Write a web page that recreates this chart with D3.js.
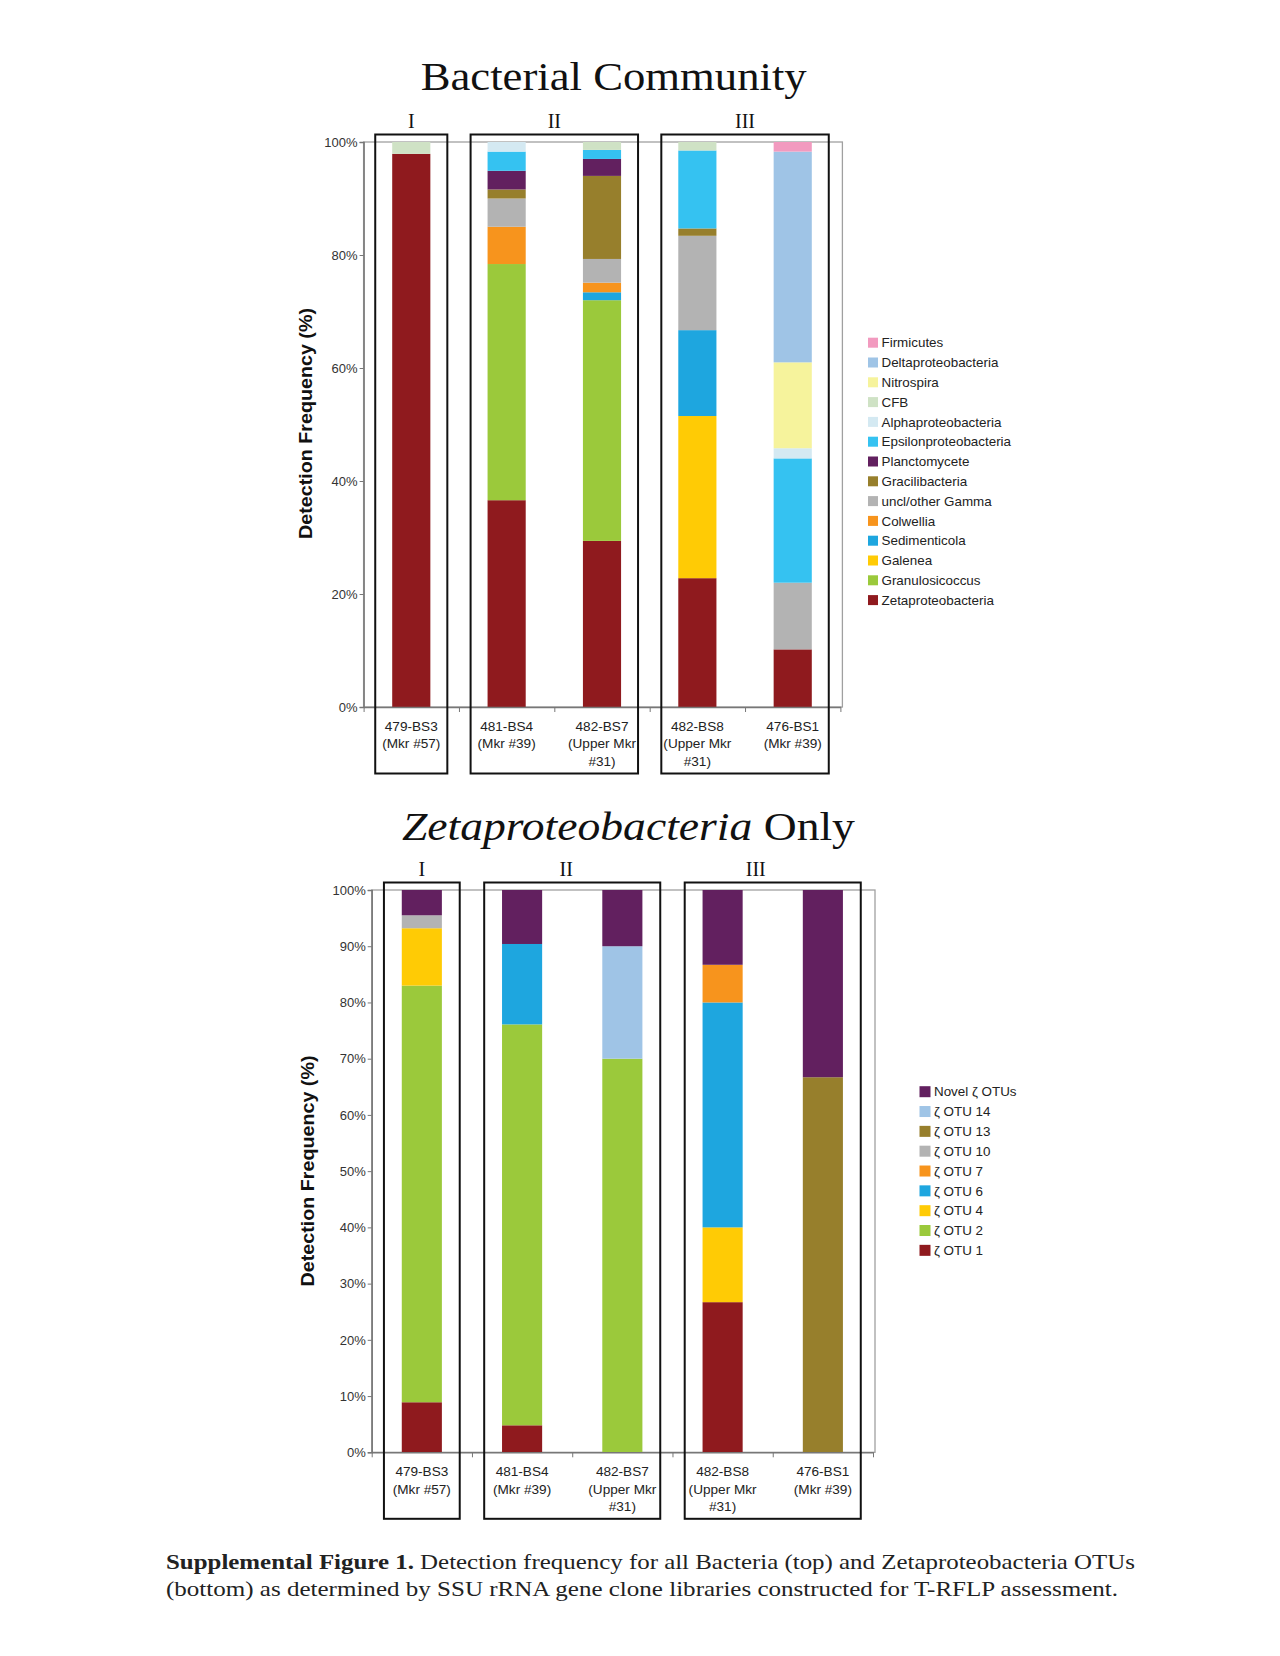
<!DOCTYPE html>
<html><head><meta charset="utf-8">
<script src="https://cdn.jsdelivr.net/npm/d3@7"></script>
<style>body{margin:0;background:#fff} svg{display:block}</style>
</head><body>
<svg id="c" width="1280" height="1656"></svg>
<script>
// ---------- DATA ----------
const samples = ["479-BS3","481-BS4","482-BS7","482-BS8","476-BS1"];
const sampleLabels = [["479-BS3","(Mkr #57)"],["481-BS4","(Mkr #39)"],["482-BS7","(Upper Mkr","#31)"],["482-BS8","(Upper Mkr","#31)"],["476-BS1","(Mkr #39)"]];
const groupNames = ["I","II","III"];
const groupMembers = [[0],[1,2],[3,4]];

// Bacterial community (stack order bottom -> top)
const bactTaxa = ["Zetaproteobacteria","Granulosicoccus","Galenea","Sedimenticola","Colwellia","uncl/other Gamma","Gracilibacteria","Planctomycete","Epsilonproteobacteria","Alphaproteobacteria","CFB","Nitrospira","Deltaproteobacteria","Firmicutes"];
const bactColors = ["#8f1a1e","#9bc93b","#ffcb05","#1ea6df","#f7941d","#b3b3b3","#977f2c","#62205f","#35c2f1","#d4e9f2","#cfe2c5","#f6f39c","#9fc4e6","#f29abf"];
const zeta      = [97.9, 36.6, 29.4, 22.8, 10.2];
const granulo   = [0, 41.8, 42.6, 0, 0];
const galenea   = [0, 0, 0, 28.7, 0];
const sedimenti = [0, 0, 1.4, 15.2, 0];
const colwellia = [0, 6.6, 1.7, 0, 0];
const gammaOth  = [0, 5.0, 4.2, 16.7, 11.8];
const gracili   = [0, 1.6, 14.7, 1.3, 0];
const plancto   = [0, 3.3, 3.0, 0, 0];
const epsilon   = [0, 3.4, 1.6, 13.8, 22.0];
const alpha     = [0, 1.7, 0, 0, 1.8];
const cfb       = [2.1, 0, 1.4, 1.5, 0];
const nitrospira= [0, 0, 0, 0, 15.2];
const delta     = [0, 0, 0, 0, 37.3];
const firmic    = [0, 0, 0, 0, 1.7];
const bactSeries = [zeta,granulo,galenea,sedimenti,colwellia,gammaOth,gracili,plancto,epsilon,alpha,cfb,nitrospira,delta,firmic];
const bactTicks = [0,20,40,60,80,100];

// Zetaproteobacteria OTUs (stack order bottom -> top)
const otuNames = ["\u03B6 OTU 1","\u03B6 OTU 2","\u03B6 OTU 4","\u03B6 OTU 6","\u03B6 OTU 7","\u03B6 OTU 10","\u03B6 OTU 13","\u03B6 OTU 14","Novel \u03B6 OTUs"];
const otuColors = ["#8f1a1e","#9bc93b","#ffcb05","#1ea6df","#f7941d","#b3b3b3","#977f2c","#9fc4e6","#62205f"];
const otu1  = [8.9, 4.8, 0, 26.7, 0];
const otu2  = [74.1, 71.3, 70.0, 0, 0];
const otu4  = [10.2, 0, 0, 13.3, 0];
const otu6  = [0, 14.3, 0, 40.0, 0];
const otu7  = [0, 0, 0, 6.7, 0];
const otu10 = [2.3, 0, 0, 0, 0];
const otu13 = [0, 0, 0, 0, 66.7];
const otu14 = [0, 0, 20.0, 0, 0];
const novel = [4.5, 9.6, 10.0, 13.3, 33.3];
const otuSeries = [otu1,otu2,otu4,otu6,otu7,otu10,otu13,otu14,novel];
const otuTicks = [0,10,20,30,40,50,60,70,80,90,100];

// ---------- DRAW ----------
const svg = d3.select("#c");
const SANS = "'Liberation Sans', Arial, sans-serif";
const SERIF = "'Liberation Serif', 'Times New Roman', serif";

function panel(cfg){
  const g = svg.append("g");
  const x = d3.scaleBand().domain(samples).range([cfg.left, cfg.right]).paddingInner(0.6).paddingOuter(0.3);
  const xb = d3.scaleLinear().domain([0, samples.length]).range([cfg.left, cfg.right]);
  const y = d3.scaleLinear().domain([0,100]).range([cfg.bottom, cfg.top]);
  const step = x.step();

  const table = samples.map((s,i)=>{ const o={sample:s}; cfg.names.forEach((n,k)=>o[n]=cfg.series[k][i]); return o; });
  const stack = d3.stack().keys(cfg.names)(table);

  g.append("rect").attr("x",cfg.left).attr("y",cfg.top).attr("width",cfg.right-cfg.left+2).attr("height",cfg.bottom-cfg.top)
    .attr("fill","none").attr("stroke","#a0a0a0").attr("stroke-width",1.3);

  stack.forEach((layer,k)=>{
    g.append("g").attr("fill",cfg.colors[k]).selectAll("rect").data(layer).join("rect")
      .attr("x",d=>x(d.data.sample)).attr("width",x.bandwidth())
      .attr("y",d=>y(d[1])).attr("height",d=>Math.max(0,y(d[0])-y(d[1])));
  });

  const ya = g.append("g").attr("transform",`translate(${cfg.left},0)`)
    .call(d3.axisLeft(y).tickValues(cfg.ticks).tickFormat(d=>d+"%").tickSize(4).tickPadding(2));
  ya.select(".domain").attr("stroke","#777").attr("stroke-width",1.5);
  ya.selectAll(".tick line").attr("stroke","#777");
  ya.selectAll("text").attr("font-family",SANS).attr("font-size",13).attr("fill","#333");

  const xa = g.append("g").attr("transform",`translate(0,${cfg.bottom})`)
    .call(d3.axisBottom(xb).tickValues(d3.range(0,samples.length+1)).tickFormat("").tickSize(5).tickSizeOuter(0));
  xa.select(".domain").attr("stroke","#777").attr("stroke-width",1.5);
  xa.selectAll(".tick line").attr("stroke","#777");

  sampleLabels.forEach((lines,i)=>{
    const cx = x(samples[i]) + x.bandwidth()/2;
    lines.forEach((t,j)=>{
      g.append("text").attr("x",cx).attr("y",cfg.bottom+19.2+j*17.3).attr("dy","0.35em")
        .attr("text-anchor","middle").attr("font-family",SANS).attr("font-size",13.6).attr("fill","#222").text(t);
    });
  });

  groupMembers.forEach((m,gi)=>{
    const c0 = x(samples[m[0]]) + x.bandwidth()/2, c1 = x(samples[m[m.length-1]]) + x.bandwidth()/2;
    const bx0 = c0 - 0.378*step, bx1 = c1 + 0.378*step;
    const by0 = cfg.top - 7.5, by1 = cfg.bottom + 66.5;
    g.append("rect").attr("x",bx0).attr("y",by0).attr("width",bx1-bx0).attr("height",by1-by0)
      .attr("fill","none").attr("stroke","#111").attr("stroke-width",2);
    g.append("text").attr("x",(bx0+bx1)/2 + cfg.labShift[gi]).attr("y",by0-6.5).attr("text-anchor","middle")
      .attr("font-family",SERIF).attr("font-size",20).attr("fill","#111").text(groupNames[gi]);
  });

  g.append("text").attr("transform",`translate(${cfg.ylabX},${cfg.ylabY}) rotate(-90)`).attr("text-anchor","middle")
    .attr("dy","0.35em").attr("font-family",SANS).attr("font-weight","bold").attr("font-size",18).attr("fill","#111")
    .attr("textLength",231).attr("lengthAdjust","spacingAndGlyphs").text("Detection Frequency (%)");

  const lg = g.append("g");
  const items = cfg.names.map((n,k)=>({n,c:cfg.colors[k]})).reverse();
  items.forEach((it,i)=>{
    const cy = cfg.legY + i*cfg.legStep;
    lg.append("rect").attr("x",cfg.legX).attr("y",cy-cfg.sq/2).attr("width",cfg.sq).attr("height",cfg.sq).attr("fill",it.c);
    lg.append("text").attr("x",cfg.legX+cfg.sq+3.5).attr("y",cy).attr("dy","0.35em").attr("font-family",SANS)
      .attr("font-size",13.4).attr("fill","#222").text(it.n);
  });
}

panel({left:363.6, right:840.4, top:142, bottom:707, names:bactTaxa, colors:bactColors, series:bactSeries, ticks:bactTicks,
       ylabX:306, ylabY:423.5, legX:868, legY:342.7, legStep:19.8, sq:10, labShift:[0,0,0]});
panel({left:371.7, right:873, top:890, bottom:1452.3, names:otuNames, colors:otuColors, series:otuSeries, ticks:otuTicks,
       ylabX:308, ylabY:1171, legX:919.5, legY:1091.7, legStep:19.83, sq:11, labShift:[0,-6,-17]});

svg.append("text").attr("x",613.7).attr("y",90).attr("text-anchor","middle").attr("font-family",SERIF).attr("font-size",41)
  .attr("fill","#111").attr("textLength",386).attr("lengthAdjust","spacingAndGlyphs").text("Bacterial Community");
const t2 = svg.append("text").attr("x",628.4).attr("y",840).attr("text-anchor","middle").attr("font-family",SERIF).attr("font-size",41)
  .attr("fill","#111").attr("textLength",453).attr("lengthAdjust","spacingAndGlyphs");
t2.append("tspan").attr("font-style","italic").text("Zetaproteobacteria");
t2.append("tspan").text(" Only");

const c1 = svg.append("text").attr("x",166).attr("y",1569).attr("font-family",SERIF).attr("font-size",21).attr("fill","#222")
  .attr("textLength",969).attr("lengthAdjust","spacingAndGlyphs");
c1.append("tspan").attr("font-weight","bold").text("Supplemental Figure 1.");
c1.append("tspan").text(" Detection frequency for all Bacteria (top) and Zetaproteobacteria OTUs");
svg.append("text").attr("x",166).attr("y",1596).attr("font-family",SERIF).attr("font-size",21).attr("fill","#222")
  .attr("textLength",952).attr("lengthAdjust","spacingAndGlyphs")
  .text("(bottom) as determined by SSU rRNA gene clone libraries constructed for T-RFLP assessment.");
</script>
</body></html>
